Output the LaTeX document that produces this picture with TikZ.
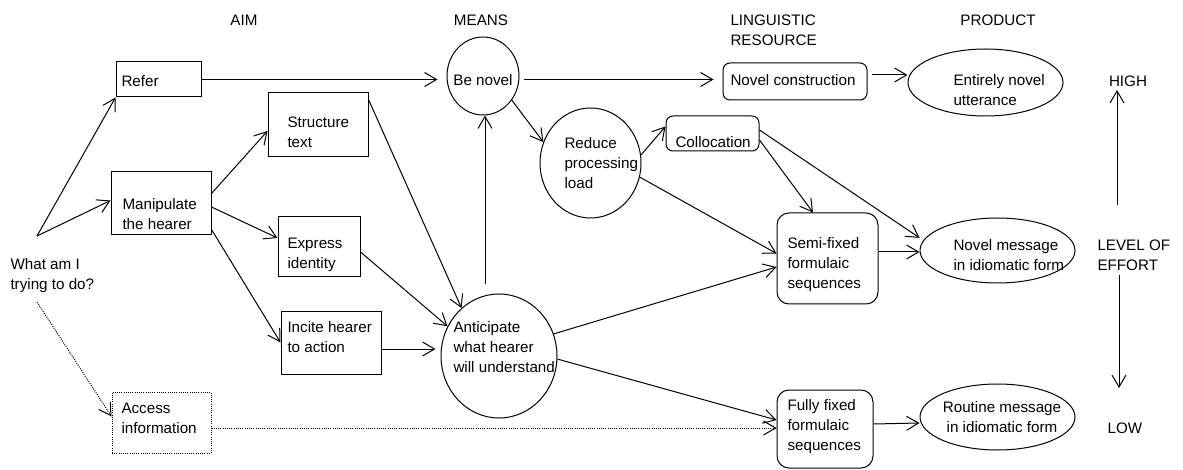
\documentclass[tikz,border=0pt]{standalone}
\usepackage{fontspec}
\setmainfont{Liberation Sans}
\usetikzlibrary{arrows.meta,shapes.geometric}
\begin{document}
\begin{tikzpicture}[x=1pt,y=-1pt,
  font=\fontsize{15.2}{20}\selectfont,
  line width=1pt,
  box/.style={draw, rectangle, inner sep=0pt},
  rbox/.style={draw, rectangle, rounded corners=#1, inner sep=0pt},
  ell/.style={draw, ellipse, inner sep=0pt},
  txt/.style={inner sep=0pt, anchor=west, align=left},
  ctxt/.style={inner sep=0pt, align=center},
  arr/.style={-{Straight Barb[length=12pt,width=14pt]}},
  dots/.style={dash pattern=on 1pt off 1.2pt},
]
\useasboundingbox (0,0) rectangle (1183,470);

% headers
\node[ctxt] (aim) at (244,20) {AIM};
\node[ctxt] (means) at (481,20) {MEANS};
\node[txt] (ling) at (730,30) {LINGUISTIC\\RESOURCE};
\node[ctxt] (product) at (998,20) {PRODUCT};
\node[ctxt] (high) at (1128,81) {HIGH};
\node[txt] (level) at (1097,255) {LEVEL OF\\EFFORT};
\node[ctxt] (low) at (1125,428) {LOW};

% aims
\node[txt] (what) at (10,276) {What am I\\trying to do?};
\node[box, minimum width=85pt, minimum height=35pt] (refer) at (158.5,79.5) {};
\node[txt] (referT) at (121,81) {Refer};
\node[box, minimum width=100pt, minimum height=64pt] (struct) at (318,125) {};
\node[txt] (structT) at (287,132) {Structure\\text};
\node[box, minimum width=100pt, minimum height=63pt] (manip) at (161,203.5) {};
\node[txt] (manipT) at (122,214) {Manipulate\\the hearer};
\node[box, minimum width=82pt, minimum height=60pt] (express) at (319,247) {};
\node[txt] (expressT) at (287,255) {Express\\identity};
\node[box, minimum width=100pt, minimum height=63pt] (incite) at (331,342.5) {};
\node[txt] (inciteT) at (287,337) {Incite hearer\\to action};
\node[box, dots, minimum width=99pt, minimum height=61pt] (access) at (161.5,422.5) {};
\node[txt] (accessT) at (121,418) {Access\\information};

% means
\node[ell, minimum width=72pt, minimum height=78pt] (benovel) at (483,76) {};
\node[ctxt] (benovelT) at (483,80) {Be novel};
\node[ell, minimum width=101pt, minimum height=110pt] (reduce) at (590.5,163) {};
\node[txt] (reduceT) at (564,163) {Reduce\\processing\\load};
\node[ell, minimum width=116pt, minimum height=124pt] (antic) at (499,356) {};
\node[txt] (anticT) at (453,347) {Anticipate\\what hearer\\will understand};

% linguistic resources
\node[rbox=7pt, minimum width=144pt, minimum height=37pt] (novcons) at (795,81.5) {};
\node[txt] (novconsT) at (730,80) {Novel construction};
\node[rbox=7pt, minimum width=93pt, minimum height=35pt] (colloc) at (712.5,133.5) {};
\node[txt] (collocT) at (675,142) {Collocation};
\node[rbox=12pt, minimum width=101pt, minimum height=91pt] (semi) at (827.5,258.5) {};
\node[txt] (semiT) at (787,265) {Semi-fixed\\formulaic\\sequences};
\node[rbox=12pt, minimum width=96pt, minimum height=78pt] (fully) at (825,429) {};
\node[txt] (fullyT) at (787,427) {Fully fixed\\formulaic\\sequences};

% products
\node[ell, minimum width=155pt, minimum height=67pt] (entnov) at (985.5,82.5) {};
\node[txt] (entnovT) at (953,90) {Entirely novel\\utterance};
\node[ell, minimum width=155pt, minimum height=65pt] (novmsg) at (997.5,250.5) {};
\node[txt] (novmsgT) at (953,255) {Novel message\\in idiomatic form};
\node[ell, minimum width=155pt, minimum height=66pt] (routine) at (997.5,417) {};
\node[ctxt] (routineT) at (1002,417) {Routine message\\in idiomatic form};

% connectors
\coordinate (wq) at (37,236);
\coordinate (wd) at (37,302);
\draw[arr] (wq) -- (refer.south west);
\draw[arr] (wq) -- ([yshift=3pt]manip.west);
\draw[arr, dots] (wd) -- ([yshift=6pt]access.west);
\draw[arr] ([yshift=10pt]manip.east) -- ([yshift=-6pt]struct.west);
\draw[arr] ([yshift=-3.5pt]manip.east) -- ([yshift=9pt]express.west);
\draw[arr] ([yshift=6pt]manip.south east) -- (incite.west);
\draw[arr] ([yshift=-7pt]struct.north east) -- (antic.128);
\draw[arr] ([yshift=-5pt]express.east) -- (antic.150);
\draw[arr] ([yshift=-6.5pt]incite.east) -- ([xshift=-5pt,yshift=7pt]antic.west);
\draw[arr] ([xshift=-14pt,yshift=9pt]antic.north) -- ([xshift=2pt]benovel.south);
\draw[arr] (refer.east) -- ([xshift=-9pt,yshift=-3.5pt]benovel.west);
\draw[arr] ([xshift=4pt,yshift=-3.5pt]benovel.east) -- ([xshift=-9pt,yshift=2pt]novcons.west);
\draw[arr] (benovel.-40) -- (reduce.156);
\draw[arr] (reduce.9) -- ([yshift=7pt]colloc.west);
\draw[arr] (reduce.-16) -- ([yshift=5pt]semi.west);
\draw[arr] (antic.22) -- ([yshift=-8.5pt]semi.west);
\draw[arr] (antic.-3) -- ([yshift=9pt]fully.west);
\draw[arr, dots] ([yshift=-5.5pt]access.east) -- ([yshift=-5.5pt]access.east -| fully.west);
\draw[arr] ([yshift=-6.5pt]colloc.east) -- ([xshift=-14.5pt]semi.north);
\draw[arr] ([yshift=3.5pt]colloc.east) -- ([xshift=-6pt]novmsg.170);
\draw[arr] ([xshift=4pt,yshift=6.5pt]novcons.east) -- ([yshift=7.5pt]entnov.west);
\draw[arr] ([yshift=6.5pt]semi.east) -- ([yshift=-1.5pt]novmsg.west);
\draw[arr] ([yshift=5pt]fully.east) -- ([yshift=-6pt]routine.west);

% level of effort
\coordinate (upS) at (1117,205);
\coordinate (upE) at (1117,90);
\draw[arr] (upS) -- (upE);
\coordinate (dnS) at (1119,275);
\coordinate (dnE) at (1119,388);
\draw[arr] (dnS) -- (dnE);
\end{tikzpicture}
\end{document}
